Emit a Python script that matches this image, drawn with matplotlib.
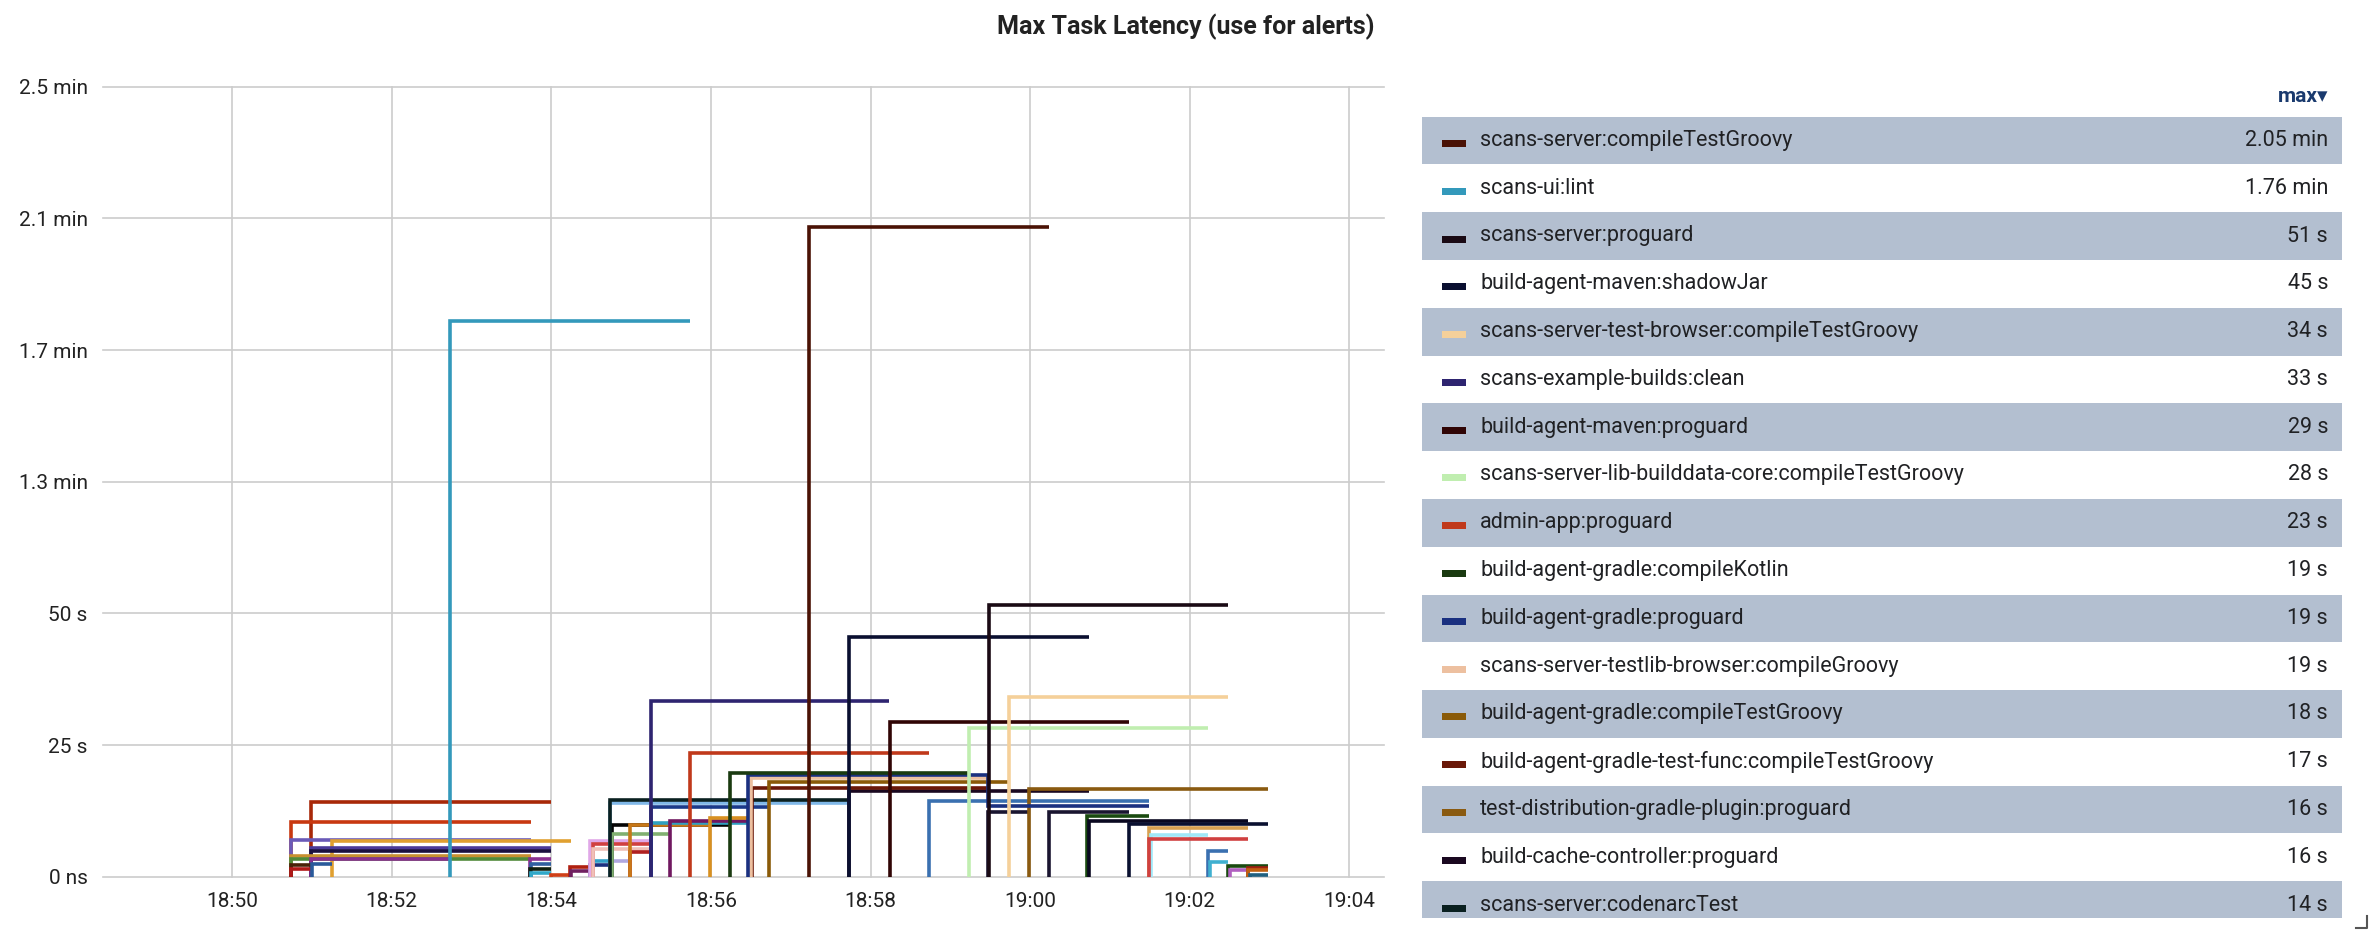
import datetime as dt

import matplotlib
matplotlib.use("Agg")
import matplotlib.pyplot as plt
import matplotlib.dates as mdates
from matplotlib.patches import Rectangle

plt.rcParams["font.family"] = ["Roboto", "DejaVu Sans"]

# ---- data (times are step start / step end, values in seconds)
legend_names = [
    "scans-server:compileTestGroovy",
    "scans-ui:lint",
    "scans-server:proguard",
    "build-agent-maven:shadowJar",
    "scans-server-test-browser:compileTestGroovy",
    "scans-example-builds:clean",
    "build-agent-maven:proguard",
    "scans-server-lib-builddata-core:compileTestGroovy",
    "admin-app:proguard",
    "build-agent-gradle:compileKotlin",
    "build-agent-gradle:proguard",
    "scans-server-testlib-browser:compileGroovy",
    "build-agent-gradle:compileTestGroovy",
    "build-agent-gradle-test-func:compileTestGroovy",
    "test-distribution-gradle-plugin:proguard",
    "build-cache-controller:proguard",
    "scans-server:codenarcTest",
]
legend_max = ["2.05 min", "1.76 min", "51 s", "45 s", "34 s", "33 s", "29 s", "28 s",
              "23 s", "19 s", "19 s", "19 s", "18 s", "17 s", "16 s", "16 s", "14 s"]
legend_colors = ["#4a1205", "#3399bb", "#1a0a14", "#0a0f30", "#f5d09a", "#2e2470",
                 "#300505", "#c0eeb0", "#c0391b", "#1a3a10", "#1a3080", "#edc0a0",
                 "#8a5a08", "#6a1808", "#8a5a10", "#1a0820", "#0a2020"]
legend_times = [
    ["18:57:14", "19:00:14"],
    ["18:52:44", "18:55:44"],
    ["18:59:29", "19:02:29"],
    ["18:57:44", "19:00:44"],
    ["18:59:44", "19:02:29"],
    ["18:55:15", "18:58:14"],
    ["18:58:15", "19:01:14"],
    ["18:59:14", "19:02:14"],
    ["18:55:44", "18:58:44"],
    ["18:56:14", "18:59:13"],
    ["18:56:28", "18:59:28", "19:01:29"],
    ["18:56:30", "18:59:29"],
    ["18:56:44", "18:59:43"],
    ["18:56:31", "18:59:28"],
    ["18:59:59", "19:02:59"],
    ["18:57:44", "19:00:44"],
    ["18:54:44", "18:57:44"],
]
legend_values = [[123.3], [105.6], [51.5], [45.6], [34.2], [33.4], [29.4], [28.3],
                 [23.4], [19.7], [19.3, 13.4], [18.8], [17.9], [16.9], [16.6],
                 [16.2], [14.6]]

# tasks that are further down the (scrolled) legend
other_colors = ["#a82808", "#c83810", "#6a5ab8", "#e0a030", "#4a3a98", "#1a1040",
                "#c89030", "#508a3a", "#8a3090", "#4a2008", "#b01818", "#2a5a9a",
                "#8a3090", "#3060a0", "#102010", "#30a8c8", "#d04018", "#b02010",
                "#702060", "#1a3080", "#30a0c8", "#b0a8e0", "#e0a8e8", "#d04040",
                "#f0c0b8", "#b02020", "#80b8e8", "#050505", "#80b070", "#c87818",
                "#30a0c0", "#701860", "#d89020", "#1a3a8a", "#3a70b0", "#1a1530",
                "#1a1530", "#1a4a10", "#0a0820", "#0a1030", "#d8a050", "#a0e8f8",
                "#d04040", "#3a70b0", "#40b0d0", "#1a4a10", "#b060c0", "#a02010",
                "#c06010", "#206080"]
other_times = [
    ["18:50:59", "18:54:00"], ["18:50:44", "18:53:45"], ["18:50:44", "18:53:45"],
    ["18:51:15", "18:54:15"], ["18:50:59", "18:54:00"], ["18:50:59", "18:54:00"],
    ["18:50:44", "18:53:45"], ["18:50:44", "18:53:45"], ["18:50:59", "18:52:44"],
    ["18:50:44", "18:50:59"], ["18:50:44", "18:50:59"], ["18:51:00", "18:51:15"],
    ["18:53:44", "18:54:00"], ["18:53:45", "18:54:00"], ["18:53:44", "18:54:00"],
    ["18:53:45", "18:54:00"], ["18:54:00", "18:54:15"], ["18:54:14", "18:54:29"],
    ["18:54:15", "18:54:29"], ["18:54:29", "18:54:44"], ["18:54:30", "18:54:44"],
    ["18:54:44", "18:54:58"], ["18:54:29", "18:55:15"], ["18:54:31", "18:55:15"],
    ["18:54:31", "18:55:15"], ["18:54:59", "18:55:15"], ["18:54:44", "18:57:44"],
    ["18:54:46", "18:56:14"], ["18:54:46", "18:55:29"], ["18:54:59", "18:55:59"],
    ["18:55:15", "18:56:28"], ["18:55:29", "18:56:28"], ["18:55:59", "18:56:28"],
    ["18:55:15", "18:56:43"], ["18:58:44", "19:01:29"], ["18:59:28", "18:59:59"],
    ["19:00:14", "19:01:14"], ["19:00:43", "19:01:29"], ["19:00:44", "19:02:44"],
    ["19:01:14", "19:02:59"], ["19:01:29", "19:02:44"], ["19:01:31", "19:02:14"],
    ["19:01:29", "19:02:44"], ["19:02:14", "19:02:29"], ["19:02:15", "19:02:29"],
    ["19:02:29", "19:02:59"], ["19:02:30", "19:02:44"], ["19:02:44", "19:02:59"],
    ["19:02:44", "19:02:59"], ["19:02:45", "19:02:59"],
]
other_values = [[14.2], [10.3], [7.0], [6.8], [5.5], [4.9], [4.0], [3.4], [3.3], [2.2],
                [1.5], [2.4], [3.3], [2.4], [1.5], [0.7], [0.3], [1.9], [1.0], [2.2],
                [3.0], [2.9], [6.8], [6.2], [5.3], [4.6], [14.0], [9.9], [8.2], [9.9],
                [10.2], [10.6], [11.2], [13.3], [14.4], [12.3], [12.3], [11.6], [10.6],
                [10.1], [9.3], [7.9], [7.1], [4.9], [2.7], [2.0], [1.3], [1.6], [1.2],
                [0.3]]

y_ticks = [0, 25, 50, 75, 100, 125, 150]
y_labels = ["0 ns", "25 s", "50 s", "1.3 min", "1.7 min", "2.1 min", "2.5 min"]
x_range = ["18:48:23", "19:04:26"]


def to_time(s):
    return dt.datetime.strptime("2020-06-01 " + s, "%Y-%m-%d %H:%M:%S")


W, H = 2372, 934
fig = plt.figure(figsize=(W / 100, H / 100), dpi=100)
ax = fig.add_axes([103 / W, 1 - 876.7 / H, (1384 - 103) / W, (876.7 - 86.7) / H])


def draw(times, values, color, z):
    ts = [to_time(t) for t in times]
    xs = [ts[0]] + ts
    ys = [0] + values + [values[-1]]
    ax.plot(xs, ys, drawstyle="steps-post", color=color, lw=2.6,
            solid_joinstyle="miter", solid_capstyle="butt", clip_on=False, zorder=z)


for i in range(len(other_times)):
    draw(other_times[i], other_values[i], other_colors[i], 2)
for i in reversed(range(len(legend_times))):
    draw(legend_times[i], legend_values[i], legend_colors[i], 3)

ax.set_xlim(to_time(x_range[0]), to_time(x_range[1]))
ax.set_ylim(0, 150)
ax.set_yticks(y_ticks)
ax.set_yticklabels(y_labels)
ax.xaxis.set_major_locator(mdates.MinuteLocator(byminute=range(0, 60, 2)))
ax.xaxis.set_major_formatter(mdates.DateFormatter("%H:%M"))
ax.tick_params(length=0, labelsize=15, colors="#222222")
ax.tick_params(axis="y", pad=11)
ax.tick_params(axis="x", pad=11)
ax.grid(color="#cccccc", lw=1.2)
for gl in ax.get_xgridlines() + ax.get_ygridlines():
    gl.set_clip_on(False)
ax.set_axisbelow(True)
for sp in ax.spines.values():
    sp.set_visible(False)

fig.text(1186 / W, 1 - 27 / H, "Max Task Latency (use for alerts)", ha="center",
         va="center", fontsize=18, fontweight="bold", color="#222222")

# ---- legend table on the right
lg = fig.add_axes([0, 0, 1, 1])
lg.set_xlim(0, W)
lg.set_ylim(H, 0)
lg.axis("off")
lg.patch.set_visible(False)

row_top = 116.5
row_h = 47.8
cut = 918
lg.text(2328, 96, "max▾", ha="right", va="center", fontsize=15, fontweight="bold",
        color="#1a3a6e")
for i, name in enumerate(legend_names):
    top = row_top + i * row_h
    bottom = min(top + row_h, cut)
    mid = top + row_h / 2
    if i % 2 == 0:
        lg.add_patch(Rectangle((1422, top), 920, bottom - top, color="#b3bfd0", lw=0))
    lg.add_patch(Rectangle((1442, mid - 0.5), 24, 7, color=legend_colors[i], lw=0))
    lg.text(1480, mid, name, va="center", fontsize=15.5, color="#202124")
    lg.text(2328, mid, legend_max[i], ha="right", va="center", fontsize=15.5,
            color="#202124")

lg.plot([2367, 2367, 2356], [916, 928, 928], color="#555555", lw=1.5)

fig.savefig("out.png", dpi=100)
